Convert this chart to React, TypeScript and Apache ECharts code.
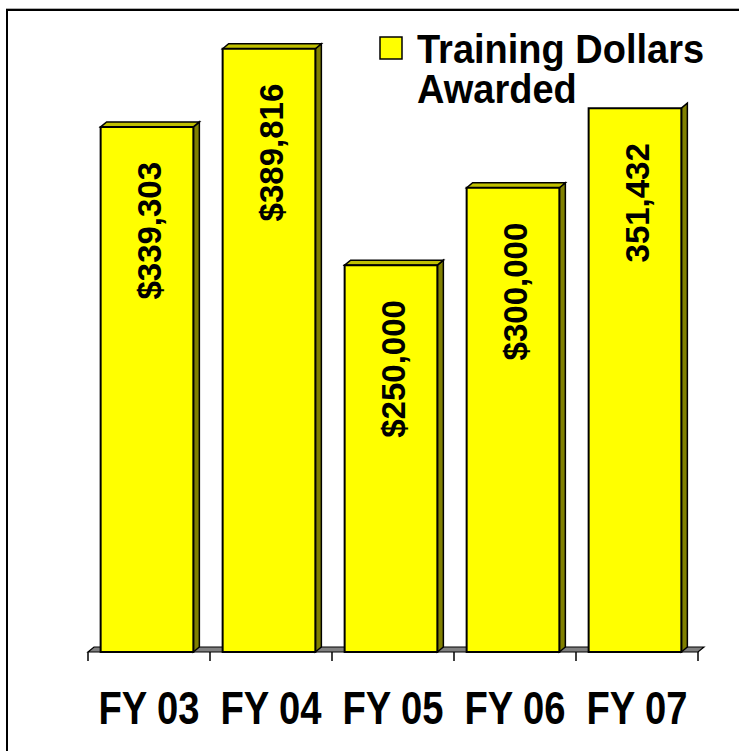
import React, { useEffect, useRef } from "react";
import * as echarts from "echarts";

const categories = ["FY 03", "FY 04", "FY 05", "FY 06", "FY 07"];
const values = [339303, 389816, 250000, 300000, 351432];
const valueLabels = ["$339,303", "$389,816", "$250,000", "$300,000", "351,432"];
const legendLines = ["Training Dollars", "Awarded"];
const yMax = 400000;

const FONT = '"Liberation Sans", Arial, Helvetica, sans-serif';

export default function App() {
  const ref = useRef<HTMLDivElement>(null);

  useEffect(() => {
    document.body.style.margin = "0";
    const chart = echarts.init(ref.current!, null, { renderer: "svg" });
    const DX = 6;
    const DY = 5;

    const txt = (text: string, size: number, align: string, valign: string) => ({
      text,
      fill: "#000",
      fontSize: size,
      fontWeight: "bold",
      fontFamily: FONT,
      align,
      textAlign: align,
      verticalAlign: valign,
      textVerticalAlign: valign,
    });

    chart.setOption({
      animation: false,
      backgroundColor: "#ffffff",
      grid: { left: 88, right: 41, top: 33, bottom: 99 },
      xAxis: {
        type: "category",
        data: categories,
        axisLine: { show: false },
        axisLabel: { show: false },
        axisTick: { show: true, length: 9, lineStyle: { color: "#000", width: 1.5 } },
        splitLine: { show: false },
      },
      yAxis: { type: "value", min: 0, max: yMax, show: false, splitLine: { show: false } },
      series: [
        {
          type: "custom",
          name: "floor",
          data: [[0, 0]],
          silent: true,
          z: 1,
          renderItem: (params: any) => {
            const cs = params.coordSys;
            const x0 = cs.x;
            const x1 = cs.x + cs.width;
            const yb = cs.y + cs.height;
            return {
              type: "polygon",
              shape: {
                points: [
                  [x0, yb],
                  [x1, yb],
                  [x1 + DX, yb - DY],
                  [x0 + DX, yb - DY],
                ],
              },
              style: { fill: "#808080", stroke: "#000", lineWidth: 1.2 },
            };
          },
        },
        {
          type: "custom",
          name: "Training Dollars Awarded",
          data: values.map((v, i) => [i, v]),
          encode: { x: 0, y: 1 },
          z: 2,
          renderItem: (params: any, api: any) => {
            const idx = params.dataIndex;
            const i = api.value(0);
            const v = api.value(1);
            const base = api.coord([i, 0]);
            const top = api.coord([i, v]);
            const band = api.size([1, 0])[0];
            const w = band * 0.76;
            const cx = base[0] - 2;
            const l = cx - w / 2;
            const r = cx + w / 2;
            const t = top[1];
            const b = base[1];
            const children: any[] = [
              {
                type: "polygon",
                shape: { points: [[r, t], [r + DX, t - DY], [r + DX, b - DY], [r, b]] },
                style: { fill: "#808000", stroke: "#000", lineWidth: 1.5 },
              },
            ];
            if (idx !== values.length - 1) {
              children.push({
                type: "polygon",
                shape: { points: [[l, t], [l + DX, t - DY], [r + DX, t - DY], [r, t]] },
                style: { fill: "#C0C000", stroke: "#000", lineWidth: 1.5 },
              });
            }
            children.push({
              type: "rect",
              shape: { x: l, y: t, width: w, height: b - t },
              style: { fill: "#FFFF00", stroke: "#000", lineWidth: 2 },
            });
            children.push({
              type: "text",
              x: base[0],
              y: t + 35,
              rotation: Math.PI / 2,
              style: txt(valueLabels[idx], 33, "right", "middle"),
            });
            children.push({
              type: "text",
              x: base[0],
              y: b + 56,
              scaleX: 0.83,
              style: txt(categories[idx], 46, "center", "middle"),
            });
            return { type: "group", children };
          },
        },
      ],
      graphic: [
        {
          type: "line",
          shape: { x1: 6, y1: 8.5, x2: 739, y2: 8.5 },
          style: { stroke: "#b0b0b0", lineWidth: 1 },
        },
        {
          type: "line",
          shape: { x1: 6, y1: 10, x2: 739, y2: 10 },
          style: { stroke: "#000", lineWidth: 2 },
        },
        {
          type: "line",
          shape: { x1: 7, y1: 9, x2: 7, y2: 751 },
          style: { stroke: "#000", lineWidth: 2 },
        },
        {
          type: "rect",
          shape: { x: 380, y: 37, width: 22, height: 22 },
          style: { fill: "#FFFF00", stroke: "#000", lineWidth: 1.5 },
        },
        {
          type: "text",
          x: 417,
          y: 49,
          scaleX: 0.95,
          style: txt(legendLines[0], 40, "left", "middle"),
        },
        {
          type: "text",
          x: 417,
          y: 89,
          scaleX: 0.95,
          style: txt(legendLines[1], 40, "left", "middle"),
        },
      ],
    });

    return () => chart.dispose();
  }, []);

  return <div ref={ref} style={{ width: 739, height: 751 }} />;
}
